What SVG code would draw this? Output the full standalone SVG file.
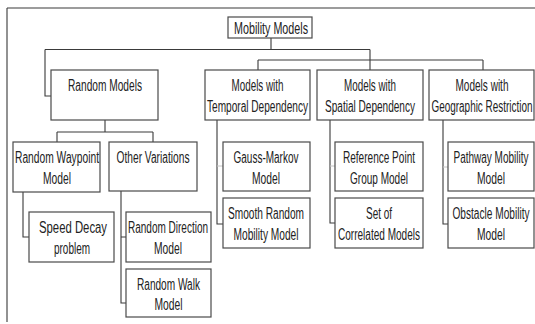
<svg xmlns="http://www.w3.org/2000/svg" width="535" height="324" viewBox="0 0 535 324">
<style>
.box{fill:#fff;stroke:#4a4a4a;stroke-width:1.2}
.ln{fill:none;stroke:#3a3a3a;stroke-width:1.1}
.faint{fill:none;stroke:#c4c4c4;stroke-width:1}
text{font-family:"Liberation Sans",Arial,sans-serif;font-size:16px;fill:#222;text-anchor:middle}
</style>
<rect width="535" height="324" fill="#fff"/>
<g id="connectors">
<path class="ln" d="M7,8 H535 M7,8 V322"/>
<path class="ln" d="M271,38 V49.5 M45,49.5 H370 M45,49.5 V96 H51 M370,49.5 V70 M258,60 H483 M258,60 V70 M483,60 V70"/>
<path class="ln" d="M105,120 V132 M57,132 H153 M57,132 V142 M153,132 V142"/>
<path class="ln" d="M23,192 V237 H29"/>
<path class="ln" d="M121,191 V303 H126 M121,237 H126"/>
<path class="ln" d="M217,120 V224 H223"/>
<path class="faint" d="M217,166 H223"/>
<path class="ln" d="M330,120 V223 H335"/>
<path class="faint" d="M330,166 H335"/>
<path class="ln" d="M443,120 V224 H448"/>
<path class="faint" d="M443,167 H448"/>
</g>
<g id="mobility-models"><rect class="box" x="228" y="17" width="84" height="21"/><text x="271" y="33.5" textLength="74" lengthAdjust="spacingAndGlyphs">Mobility Models</text></g>
<g id="random-models"><rect class="box" x="51" y="70" width="107" height="50"/><text x="105" y="90.5" textLength="74" lengthAdjust="spacingAndGlyphs">Random Models</text></g>
<g id="temporal"><rect class="box" x="205" y="70" width="105" height="50"/><text x="257.5" y="90.5" textLength="52" lengthAdjust="spacingAndGlyphs">Models with</text><text x="257.5" y="111.5" textLength="101" lengthAdjust="spacingAndGlyphs">Temporal Dependency</text></g>
<g id="spatial"><rect class="box" x="317" y="70" width="106" height="50"/><text x="370" y="90.5" textLength="52" lengthAdjust="spacingAndGlyphs">Models with</text><text x="370" y="111.5" textLength="90" lengthAdjust="spacingAndGlyphs">Spatial Dependency</text></g>
<g id="geographic"><rect class="box" x="429" y="70" width="105" height="50"/><text x="482" y="90.5" textLength="53" lengthAdjust="spacingAndGlyphs">Models with</text><text x="482" y="111.5" textLength="101" lengthAdjust="spacingAndGlyphs">Geographic Restriction</text></g>
<g id="random-waypoint"><rect class="box" x="13" y="142" width="87" height="50"/><text x="57" y="162.5" textLength="84" lengthAdjust="spacingAndGlyphs">Random Waypoint</text><text x="57" y="183.5" textLength="28" lengthAdjust="spacingAndGlyphs">Model</text></g>
<g id="other-variations"><rect class="box" x="109" y="142" width="88" height="49"/><text x="153" y="162.5" textLength="73" lengthAdjust="spacingAndGlyphs">Other Variations</text></g>
<g id="speed-decay"><rect class="box" x="29" y="212" width="85" height="50"/><text x="73" y="232.5" textLength="68" lengthAdjust="spacingAndGlyphs">Speed Decay</text><text x="72" y="253.5" textLength="36" lengthAdjust="spacingAndGlyphs">problem</text></g>
<g id="random-direction"><rect class="box" x="126" y="212" width="85" height="50"/><text x="168" y="232.5" textLength="80" lengthAdjust="spacingAndGlyphs">Random Direction</text><text x="168" y="253.5" textLength="28" lengthAdjust="spacingAndGlyphs">Model</text></g>
<g id="random-walk"><rect class="box" x="126" y="269" width="85" height="48"/><text x="168.5" y="289.5" textLength="63" lengthAdjust="spacingAndGlyphs">Random Walk</text><text x="168.5" y="309.5" textLength="28" lengthAdjust="spacingAndGlyphs">Model</text></g>
<g id="gauss-markov"><rect class="box" x="223" y="142" width="87" height="49"/><text x="266" y="162.5" textLength="65" lengthAdjust="spacingAndGlyphs">Gauss-Markov</text><text x="266" y="183.5" textLength="28" lengthAdjust="spacingAndGlyphs">Model</text></g>
<g id="smooth-random"><rect class="box" x="223" y="198" width="87" height="50"/><text x="266" y="218.5" textLength="76" lengthAdjust="spacingAndGlyphs">Smooth Random</text><text x="266" y="239.5" textLength="65" lengthAdjust="spacingAndGlyphs">Mobility Model</text></g>
<g id="reference-point"><rect class="box" x="335" y="142" width="88" height="49"/><text x="379" y="162.5" textLength="72" lengthAdjust="spacingAndGlyphs">Reference Point</text><text x="379" y="183.5" textLength="58" lengthAdjust="spacingAndGlyphs">Group Model</text></g>
<g id="set-of-correlated"><rect class="box" x="335" y="198" width="88" height="50"/><text x="379" y="218.5" textLength="26" lengthAdjust="spacingAndGlyphs">Set of</text><text x="379" y="239.5" textLength="82" lengthAdjust="spacingAndGlyphs">Correlated Models</text></g>
<g id="pathway"><rect class="box" x="448" y="142" width="86" height="49"/><text x="491" y="162.5" textLength="75" lengthAdjust="spacingAndGlyphs">Pathway Mobility</text><text x="491" y="183.5" textLength="28" lengthAdjust="spacingAndGlyphs">Model</text></g>
<g id="obstacle"><rect class="box" x="448" y="198" width="86" height="50"/><text x="491" y="218.5" textLength="77" lengthAdjust="spacingAndGlyphs">Obstacle Mobility</text><text x="491" y="239.5" textLength="28" lengthAdjust="spacingAndGlyphs">Model</text></g>
</svg>
